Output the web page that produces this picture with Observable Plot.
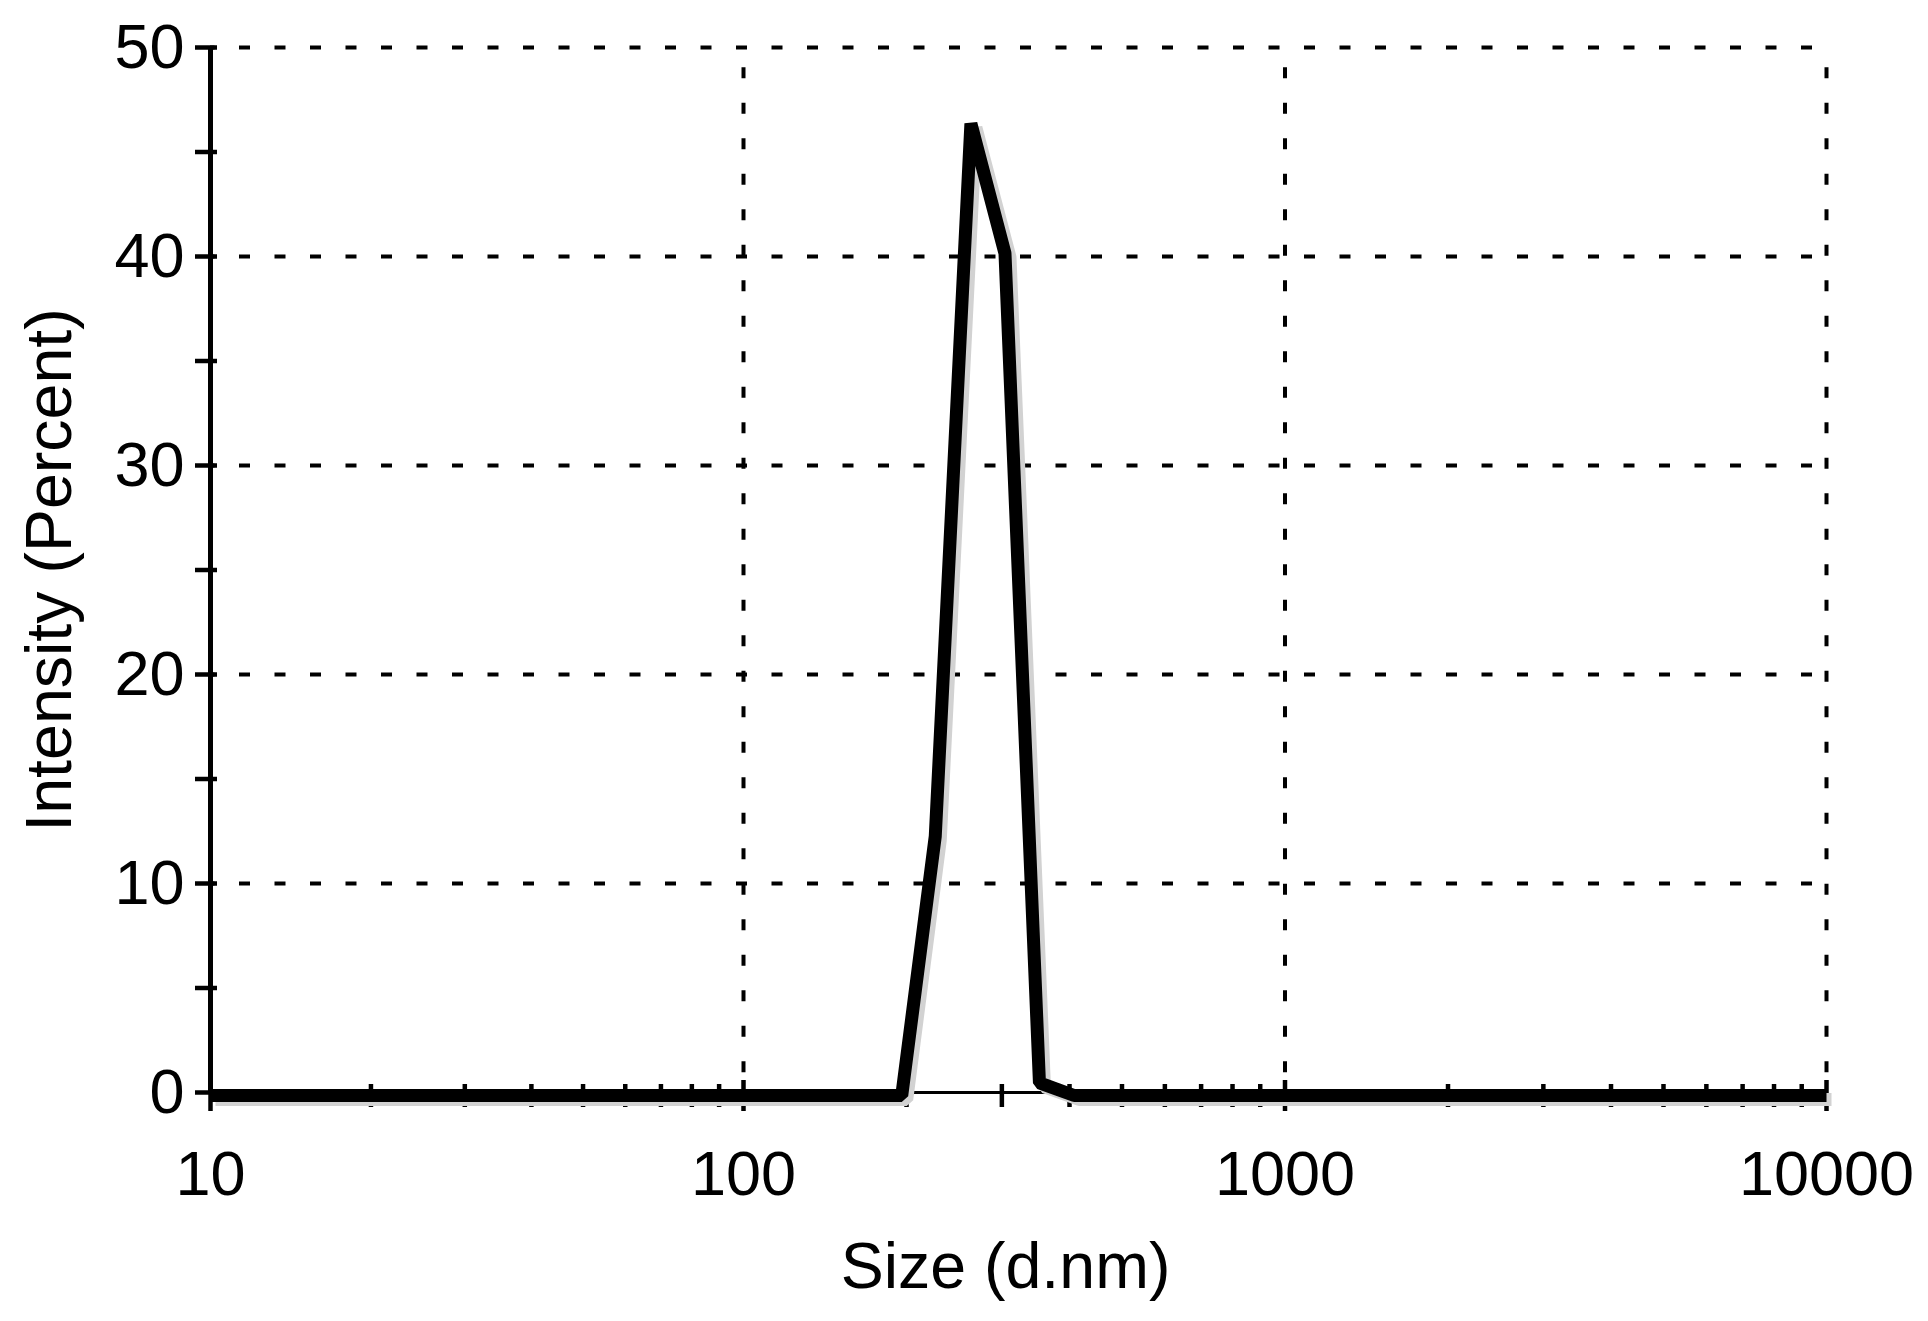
<!DOCTYPE html>
<html>
<head>
<meta charset="utf-8">
<script src="https://cdn.jsdelivr.net/npm/d3@7"></script>
<script src="https://cdn.jsdelivr.net/npm/@observablehq/plot@0.6"></script>
<style>
  html, body { margin: 0; padding: 0; background: #ffffff; }
  #chart { width: 1928px; height: 1321px; }
</style>
</head>
<body>
<div id="chart"></div>
<script>
// Size distribution by intensity (DLS)
const sizes = [10, 196, 226, 263, 304, 352, 408, 10000];
const intensity = [0, 0, 12.4, 46.5, 40.3, 0.6, 0, 0];

const xMajorTicks = [10, 100, 1000, 10000];
const xMinorTicks = [20, 30, 40, 50, 60, 70, 80, 90,
                     200, 300, 400, 500, 600, 700, 800, 900,
                     2000, 3000, 4000, 5000, 6000, 7000, 8000, 9000];
const xGridLines = [100, 1000, 10000];
const yTicks = [0, 5, 10, 15, 20, 25, 30, 35, 40, 45, 50];
const yLabelTicks = [0, 10, 20, 30, 40, 50];
const yGridLines = [10, 20, 30, 40, 50];

const xTitle = "Size (d.nm)";
const yTitle = "Intensity (Percent)";

const data = sizes.map((s, i) => ({ size: s, value: intensity[i] }));
const font = "'Liberation Sans', Arial, Helvetica, sans-serif";

const chart = Plot.plot({
  width: 1928,
  height: 1321,
  marginLeft: 210,
  marginRight: 102,
  marginTop: 47,
  marginBottom: 229,
  // the original's first decade is drawn slightly narrower than the others
  x: { type: "log", domain: [10, 100, 10000], range: [210, 743, 1826] },
  y: { domain: [0, 50] },
  style: { fontFamily: font, fontSize: "63px", background: "#ffffff", color: "#000000", overflow: "visible" },
  marks: [
    // dotted grid
    Plot.ruleY(yGridLines, { y: d => d, stroke: "#000", strokeWidth: 4, strokeDasharray: "11,24.5", strokeDashoffset: 6.5 }),
    Plot.ruleX(xGridLines, { x: d => d, stroke: "#000", strokeWidth: 4, strokeDasharray: "11,24.5", strokeDashoffset: 15.2 }),
    // axis lines
    Plot.ruleY([0], { stroke: "#000", strokeWidth: 3 }),
    Plot.ruleX([10], { stroke: "#000", strokeWidth: 5 }),
    // y ticks (crossing the axis)
    Plot.axisY({ ticks: yTicks, tickSize: 22, tickFormat: () => "", dx: 7, strokeWidth: 4.5, label: null }),
    // x ticks
    Plot.axisX({ ticks: xMajorTicks, tickSize: 31, tickFormat: () => "", dy: -12, strokeWidth: 4.5, label: null }),
    Plot.axisX({ ticks: xMinorTicks, tickSize: 23, tickFormat: () => "", dy: -8, strokeWidth: 4.5, label: null }),
    // tick labels
    Plot.axisY({ ticks: yLabelTicks, tickSize: 0, tickPadding: 26, fontSize: 63, fill: "#000", tickFormat: d => String(d), label: null }),
    Plot.axisX({ ticks: xMajorTicks, tickSize: 0, tickPadding: 58, fontSize: 63, fill: "#000", tickFormat: d => String(d), label: null }),
    // data line with shadow
    Plot.line(data, { x: "size", y: "value", stroke: "#d2d2d2", strokeWidth: 13, dx: 5, dy: 7, strokeLinejoin: "miter", strokeLinecap: "butt" }),
    Plot.line(data, { x: "size", y: "value", stroke: "#000", strokeWidth: 13, dy: 3, strokeLinejoin: "miter", strokeLinecap: "butt" }),
    // axis titles
    Plot.text([yTitle], { text: d => d, frameAnchor: "left", dx: -160, rotate: -90, fontSize: 64.5, textAnchor: "middle", lineAnchor: "middle", fill: "#000" }),
    Plot.text([xTitle], { text: d => d, frameAnchor: "bottom", dx: -13, dy: 175, fontSize: 64.5, textAnchor: "middle", lineAnchor: "middle", fill: "#000" })
  ]
});

document.getElementById("chart").appendChild(chart);
</script>
</body>
</html>
